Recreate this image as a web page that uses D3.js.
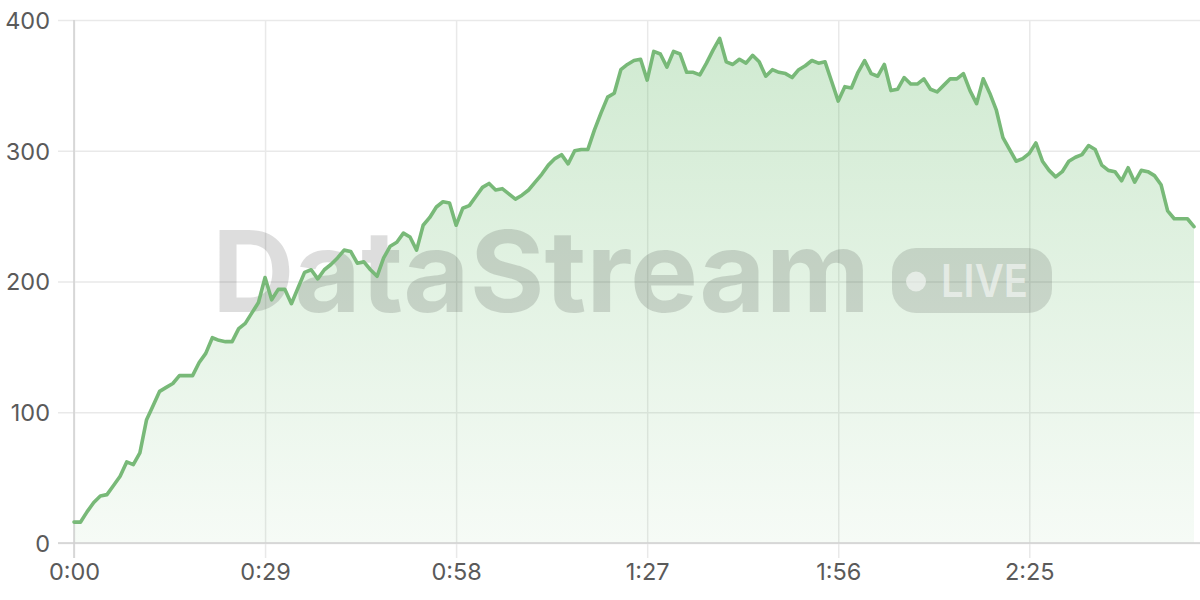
<!DOCTYPE html>
<html><head><meta charset="utf-8">
<script src="https://cdn.jsdelivr.net/npm/d3@7"></script>
<style>html,body{margin:0;padding:0;background:#fff;}svg{display:block;}</style>
</head><body>
<svg id="c" width="1200" height="600"></svg>
<script>
const seconds = d3.range(0, 171);
const values = [16,16,24,31,36,37,44,51,62,60,69,94,105,116,119,122,128,128,128,138,
145,157,155,154,154,164,168,176,184,203,186,194,194,183,195,207,209,202,209,213,
218,224,223,214,215,209,204,218,227,230,237,234,224,243,249,257,261,260,243,256,
258,265,272,275,270,271,267,263,266,270,276,282,289,294,297,290,300,301,301,316,
329,341,344,362,366,369,370,354,376,374,364,376,374,360,360,358,367,377,386,368,
366,370,367,373,368,357,362,360,359,356,362,365,369,367,368,353,338,349,348,360,
369,359,357,366,346,347,356,351,351,355,347,345,350,355,355,359,346,336,355,344,
331,310,301,292,294,298,306,292,285,280,284,292,295,297,304,301,289,285,284,277,
287,276,285,284,281,274,254,248,248,248,242];
const xTicks = [0, 29, 58, 87, 116, 145];
const yTicks = [0, 100, 200, 300, 400];
const watermark = "DataStream";
const badgeText = "LIVE";

const FONT = "Inter, 'Noto Sans', 'Open Sans', sans-serif";
const W = 1200, H = 600;
const m = {l: 74, r: 6, t: 20, b: 57};
const svg = d3.select("#c").attr("font-family", FONT);
const x = d3.scaleLinear().domain([0, 170]).range([m.l, W - m.r]);
const y = d3.scaleLinear().domain([0, 400]).range([H - m.b, m.t]);
const data = seconds.map((s, i) => ({s, v: values[i]}));
const fmt = s => Math.floor(s / 60) + ":" + String(s % 60).padStart(2, "0");

const defs = svg.append("defs");
const g = defs.append("linearGradient").attr("id", "ag")
  .attr("gradientUnits", "userSpaceOnUse").attr("x1", 0).attr("x2", 0)
  .attr("y1", y(400)).attr("y2", y(0));
g.append("stop").attr("offset", "0%").attr("stop-color", "#4caf50").attr("stop-opacity", 0.27);
g.append("stop").attr("offset", "100%").attr("stop-color", "#4caf50").attr("stop-opacity", 0.05);

// horizontal grid
const yAxis = d3.axisLeft(y).tickValues(yTicks).tickSize(-(W - m.l + 16)).tickPadding(7);
const ya = svg.append("g").attr("transform", `translate(${m.l - 16},0)`).call(yAxis)
  .attr("font-family", FONT);
ya.select(".domain").remove();
ya.selectAll(".tick line").attr("stroke", "#e9e9e9").attr("stroke-width", 1.5);
ya.selectAll(".tick text").attr("font-size", 23.5).attr("fill", "#5a5a5a").attr("x", -8).attr("dy", "0.36em");

// vertical grid
const xAxis = d3.axisBottom(x).tickValues(xTicks).tickFormat(fmt).tickSize(-(H - m.b - m.t)).tickPadding(0);
const xa = svg.append("g").attr("transform", `translate(0,${H - m.b + 15})`).call(xAxis)
  .attr("font-family", FONT);
xa.select(".domain").remove();
xa.selectAll(".tick line").attr("stroke", "#e9e9e9").attr("stroke-width", 1.5).attr("y1", 0).attr("y2", -(H - m.b - m.t + 15));
xa.selectAll(".tick text").attr("font-size", 23.5).attr("fill", "#5a5a5a").attr("y", 0).attr("dy", "0.92em");

// area
svg.append("path").datum(data)
  .attr("d", d3.area().x(d => x(d.s)).y0(y(0)).y1(d => y(d.v)))
  .attr("fill", "url(#ag)");

// axis lines
svg.append("line").attr("x1", m.l).attr("x2", m.l).attr("y1", m.t).attr("y2", H - m.b + 15)
  .attr("stroke", "#d0d0d0").attr("stroke-width", 1.5);
svg.append("line").attr("x1", m.l - 16).attr("x2", W).attr("y1", y(0)).attr("y2", y(0))
  .attr("stroke", "#d0d0d0").attr("stroke-width", 1.5);

// watermark
const wm = svg.append("g").attr("pointer-events", "none").attr("font-family", FONT);
wm.append("text").text(watermark).attr("x", 212).attr("y", 312)
  .attr("font-size", 113).attr("font-weight", 700).attr("fill", "#000").attr("fill-opacity", 0.135)
  .attr("textLength", 658).attr("lengthAdjust", "spacingAndGlyphs");
wm.append("rect").attr("x", 892).attr("y", 248).attr("width", 160).attr("height", 65).attr("rx", 24)
  .attr("fill", "#000").attr("fill-opacity", 0.12);
wm.append("circle").attr("cx", 916).attr("cy", 281.5).attr("r", 10).attr("fill", "#fff").attr("fill-opacity", 0.55);
wm.append("text").text(badgeText).attr("x", 941).attr("y", 296.5)
  .attr("font-size", 45).attr("font-weight", 600).attr("fill", "#fff").attr("fill-opacity", 0.55)
  .attr("textLength", 87).attr("lengthAdjust", "spacingAndGlyphs");

// line
svg.append("path").datum(data)
  .attr("d", d3.line().x(d => x(d.s)).y(d => y(d.v)))
  .attr("fill", "none").attr("stroke", "#78b978").attr("stroke-width", 3.6)
  .attr("stroke-linejoin", "round").attr("stroke-linecap", "round");
</script>
</body></html>
